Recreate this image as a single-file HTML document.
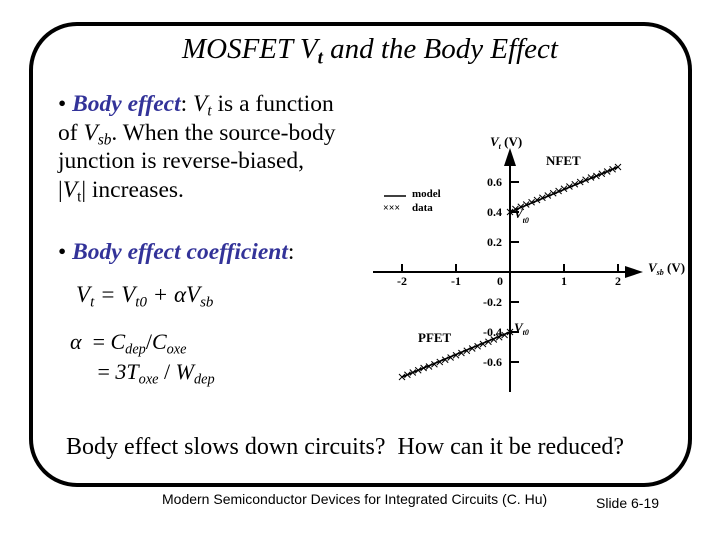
<!DOCTYPE html>
<html><head><meta charset="utf-8"><style>
body{margin:0;width:720px;height:540px;background:#fff;overflow:hidden;position:relative;font-family:"Liberation Serif",serif}
.frame{position:absolute;left:29px;top:22px;width:655px;height:457px;border:4px solid #000;border-radius:48px}
.t{position:absolute;white-space:nowrap;color:#000}
.b{color:#333399;font-weight:bold;font-style:italic}
i{font-style:italic}
sub{font-size:0.65em;vertical-align:-0.3em;line-height:0}
</style></head><body>
<div class="frame"></div>
<div class="t" style="left:0;width:740px;text-align:center;top:33px;font-size:29px;font-style:italic">MOSFET V<sub style="font-weight:bold">t</sub> and the Body Effect</div>
<div class="t" style="left:58px;top:90px;font-size:23.5px;line-height:28.5px">• <span class="b">Body effect</span>: <i>V<sub>t</sub></i> is a function<br>of <i>V<sub>sb</sub></i>. When the source-body<br>junction is reverse-biased,<br>|<i>V</i><sub>t</sub>| increases.</div>
<div class="t" style="left:58px;top:239px;font-size:23.5px">• <span class="b">Body effect coefficient</span>:</div>
<div class="t" style="left:76px;top:282px;font-size:23px;font-style:italic">V<sub>t</sub> = V<sub>t0</sub> + αV<sub>sb</sub></div>
<div class="t" style="left:70px;top:327px;font-size:22px;line-height:30px"><i>α</i> &nbsp;= <i>C<sub>dep</sub></i>/<i>C<sub>oxe</sub></i><br>&nbsp;&nbsp;&nbsp;&nbsp;&nbsp;= <i>3T<sub>oxe</sub></i> / <i>W<sub>dep</sub></i></div>
<div class="t" style="left:66px;top:434px;font-size:24px">Body effect slows down circuits?&nbsp; How can it be reduced?</div>
<div class="t" style="left:162px;top:491px;font-size:14px;font-family:'Liberation Sans',sans-serif">Modern Semiconductor Devices for Integrated Circuits (C. Hu)</div>
<div class="t" style="left:596px;top:495px;font-size:14px;font-family:'Liberation Sans',sans-serif">Slide 6-19</div>
<svg id="chart" width="720" height="540" style="position:absolute;left:0;top:0"></svg>
<script>
const xTicks=[-2,-1,0,1,2];
const yTicks=[0.6,0.4,0.2,-0.2,-0.4,-0.6];
const yTickLabels=["0.6","0.4","0.2","-0.2","-0.4","-0.6"];
const nfetVsb=[0,0.1,0.2,0.3,0.4,0.5,0.6,0.7,0.8,0.9,1.0,1.1,1.2,1.3,1.4,1.5,1.6,1.7,1.8,1.9,2.0];
const nfetVt=[0.40,0.42,0.435,0.45,0.465,0.48,0.495,0.51,0.525,0.54,0.555,0.57,0.585,0.60,0.615,0.63,0.64,0.655,0.67,0.685,0.70];
const pfetVsb=[0,-0.1,-0.2,-0.3,-0.4,-0.5,-0.6,-0.7,-0.8,-0.9,-1.0,-1.1,-1.2,-1.3,-1.4,-1.5,-1.6,-1.7,-1.8,-1.9,-2.0];
const pfetVt=[-0.40,-0.42,-0.435,-0.45,-0.465,-0.48,-0.495,-0.51,-0.525,-0.54,-0.555,-0.57,-0.585,-0.60,-0.615,-0.63,-0.64,-0.655,-0.67,-0.685,-0.70];
const ns="http://www.w3.org/2000/svg",svg=document.getElementById('chart');
const X=v=>510+v*54, Y=v=>272-v*150;
function mk(tag,at,txt){const e=document.createElementNS(ns,tag);for(const k in at)e.setAttribute(k,at[k]);if(txt!=null)e.textContent=txt;svg.appendChild(e);return e;}
const F='font-family:"Liberation Serif",serif;font-weight:bold';
let e;
e=mk('line',{x1:373,y1:272,x2:630,y2:272,stroke:'#000','stroke-width':2});

e=mk('polygon',{points:'643,272 625,266 625,278'});

e=mk('line',{x1:510,y1:392,x2:510,y2:162,stroke:'#000','stroke-width':2});

e=mk('polygon',{points:'510,148 504,166 516,166'});

xTicks.forEach(v=>{
  if(v!==0){e=mk('line',{x1:X(v),y1:264,x2:X(v),y2:272,stroke:'#000','stroke-width':2});
  }
  e=mk('text',{x:X(v)-(v===0?10:0),y:285,'text-anchor':'middle','font-size':12,style:F},String(v));
  
});
yTicks.forEach((v,i)=>{
  e=mk('line',{x1:510,y1:Y(v),x2:519,y2:Y(v),stroke:'#000','stroke-width':2});
  
  e=mk('text',{x:502,y:Y(v)+4,'text-anchor':'end','font-size':12,style:F},yTickLabels[i]);
  
});
function series(xs,ys,name){
  e=mk('line',{x1:X(xs[0]),y1:Y(ys[0]),x2:X(xs[xs.length-1]),y2:Y(ys[ys.length-1]),stroke:'#000','stroke-width':1.6});
  
  xs.forEach((x,i)=>{const cx=X(x),cy=Y(ys[i]);
    e=mk('path',{d:`M${cx-3},${cy-3}L${cx+3},${cy+3}M${cx-3},${cy+3}L${cx+3},${cy-3}`,stroke:'#000','stroke-width':1});
    });
}
series(nfetVsb,nfetVt,'nfet');
series(pfetVsb,pfetVt,'pfet');
e=mk('text',{x:546,y:165,'font-size':13,style:F},'NFET');

e=mk('text',{x:418,y:342,'font-size':13,style:F},'PFET');

e=mk('text',{x:490,y:146,'font-size':13,style:F},'');
e.innerHTML='<tspan font-style="italic">V</tspan><tspan font-size="8" dy="3" font-style="italic">t</tspan><tspan dy="-3"> (V)</tspan>';

e=mk('text',{x:648,y:272,'font-size':13,style:F},'');
e.innerHTML='<tspan font-style="italic">V</tspan><tspan font-size="8" dy="3" font-style="italic">sb</tspan><tspan dy="-3"> (V)</tspan>';

e=mk('text',{x:514,y:218,'font-size':13,style:F},'');
e.innerHTML='<tspan font-style="italic">V</tspan><tspan font-size="8" dy="5" font-style="italic">t0</tspan>';

e=mk('text',{x:514,y:332,'font-size':13,style:F},'');
e.innerHTML='<tspan font-style="italic">V</tspan><tspan font-size="8" dy="3" font-style="italic">t0</tspan>';

e=mk('line',{x1:384,y1:196,x2:406,y2:196,stroke:'#000','stroke-width':1.5});

e=mk('text',{x:412,y:197,'font-size':11,style:F},'model');

e=mk('text',{x:383,y:211,'font-size':10,style:F},'×××');

e=mk('text',{x:412,y:211,'font-size':11,style:F},'data');

</script>
</body></html>
